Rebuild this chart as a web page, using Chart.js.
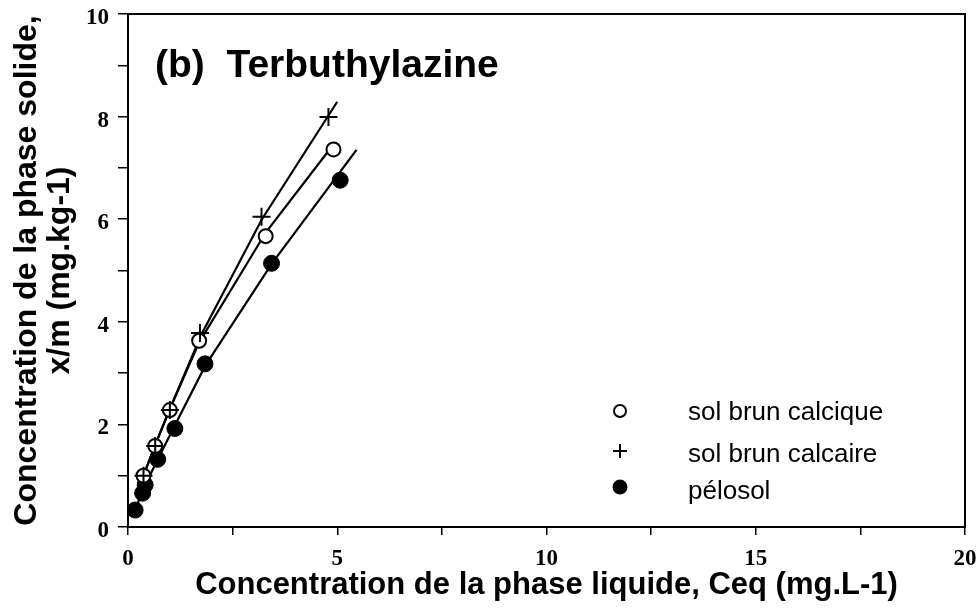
<!DOCTYPE html>
<html>
<head>
<meta charset="utf-8">
<script src="https://cdn.jsdelivr.net/npm/chart.js@4.4.1/dist/chart.umd.min.js"></script>
<style>
  html, body { margin: 0; padding: 0; background: #fff; }
  #wrap { width: 979px; height: 611px; position: relative; }
</style>
</head>
<body>
<div id="wrap"><canvas id="chart" width="979" height="611"></canvas></div>
<script>
// Isothermes d'adsorption - terbuthylazine, trois sols
const xTicks = [0, 5, 10, 15, 20];
const yTicks = [0, 2, 4, 6, 8, 10];

const soilNames = ['sol brun calcique', 'sol brun calcaire', 'pélosol'];

const calciqueX = [0.37, 0.65, 1.00, 1.70, 3.29, 4.91];
const calciqueY = [1.00, 1.58, 2.28, 3.63, 5.67, 7.36];
const calcaireX = [0.37, 0.65, 1.00, 1.72, 3.19, 4.79];
const calcaireY = [1.00, 1.58, 2.28, 3.78, 6.05, 7.99];
const pelosolX = [0.17, 0.35, 0.41, 0.71, 1.12, 1.84, 3.43, 5.07];
const pelosolY = [0.33, 0.66, 0.82, 1.32, 1.92, 3.18, 5.14, 6.76];

// fitted curves, traced vertices
const fitCalciqueX = [0.30, 0.65, 1.00, 1.70, 3.30, 4.95];
const fitCalciqueY = [0.85, 1.60, 2.30, 3.60, 5.75, 7.50];
const fitCalcaireX = [0.30, 0.65, 1.00, 1.75, 3.20, 5.00];
const fitCalcaireY = [0.85, 1.60, 2.30, 3.75, 6.00, 8.29];
const fitPelosolX = [0.15, 0.40, 0.70, 1.10, 1.85, 3.45, 5.46];
const fitPelosolY = [0.30, 0.80, 1.30, 1.95, 3.15, 5.15, 7.35];

const pts = (xs, ys) => xs.map((x, i) => ({ x, y: ys[i] }));

const SANS = '"Liberation Sans", Arial, Helvetica, sans-serif';
const SERIF = '"Liberation Serif", "Times New Roman", serif';

const boxPlugin = {
  id: 'box',
  afterDraw(chart) {
    const { ctx, chartArea: a } = chart;
    ctx.save();
    ctx.strokeStyle = '#000';
    ctx.lineWidth = 2;
    ctx.strokeRect(a.left, a.top, a.right - a.left, a.bottom - a.top);
    ctx.restore();
  }
};

const labelPlugin = {
  id: 'labels',
  afterDraw(chart) {
    const ctx = chart.ctx;
    ctx.save();
    ctx.fillStyle = '#000';
    ctx.strokeStyle = '#000';
    // panel title
    ctx.font = `bold 39px ${SANS}`;
    ctx.textBaseline = 'alphabetic';
    ctx.fillText('(b)  Terbuthylazine', 155, 77);

    // legend
    const textRows = [413, 455, 492];
    const symRows = [411, 451, 487];
    const sx = 620;
    ctx.font = `26px ${SANS}`;
    ctx.textBaseline = 'middle';
    soilNames.forEach((name, i) => ctx.fillText(name, 688, textRows[i]));
    ctx.lineWidth = 2;
    ctx.beginPath();
    ctx.arc(sx, symRows[0], 6, 0, Math.PI * 2);
    ctx.stroke();
    ctx.beginPath();
    ctx.moveTo(sx - 7, symRows[1]); ctx.lineTo(sx + 7, symRows[1]);
    ctx.moveTo(sx, symRows[1] - 7); ctx.lineTo(sx, symRows[1] + 7);
    ctx.stroke();
    ctx.beginPath();
    ctx.arc(sx, symRows[2], 7.5, 0, Math.PI * 2);
    ctx.fill();
    ctx.restore();
  }
};

const lineDs = (xs, ys) => ({
  data: pts(xs, ys),
  showLine: true,
  borderColor: '#000',
  borderWidth: 2.2,
  pointRadius: 0,
  tension: 0,
  order: 2
});

// keep the plot box fixed: no extra room for overhanging tick labels
const fixX = (s) => { s.height = 84; s.paddingLeft = 0; s.paddingRight = 0; };
const fixY = (s) => { s.width = 128; s.paddingTop = 0; s.paddingBottom = 0; };

new Chart(document.getElementById('chart'), {
  type: 'scatter',
  data: {
    datasets: [
      {
        label: soilNames[0],
        data: pts(calciqueX, calciqueY),
        pointStyle: 'circle',
        pointRadius: 7,
        backgroundColor: '#fff',
        borderColor: '#000',
        borderWidth: 2,
        order: 1
      },
      {
        label: soilNames[1],
        data: pts(calcaireX, calcaireY),
        pointStyle: 'cross',
        pointRadius: 9,
        borderColor: '#000',
        borderWidth: 2,
        order: 0
      },
      {
        label: soilNames[2],
        data: pts(pelosolX, pelosolY),
        pointStyle: 'circle',
        pointRadius: 8,
        backgroundColor: '#000',
        borderColor: '#000',
        borderWidth: 1,
        order: 1
      },
      lineDs(fitCalciqueX, fitCalciqueY),
      lineDs(fitCalcaireX, fitCalcaireY),
      lineDs(fitPelosolX, fitPelosolY)
    ]
  },
  options: {
    responsive: false,
    animation: false,
    layout: { padding: { top: 14, right: 14, left: 0, bottom: 0 } },
    plugins: {
      legend: { display: false },
      tooltip: { enabled: false }
    },
    scales: {
      x: {
        type: 'linear',
        min: 0,
        max: 20,
        afterFit: fixX,
        ticks: {
          stepSize: 2.5,
          autoSkip: false,
          maxRotation: 0,
          padding: 10,
          color: '#000',
          font: { family: SERIF, weight: 'bold', size: 23 },
          callback: (v) => (xTicks.includes(v) ? String(v) : '')
        },
        grid: { drawOnChartArea: false, color: '#000', tickLength: 8, lineWidth: 1.5 },
        border: { display: true, color: '#000', width: 2 },
        title: {
          display: true,
          text: 'Concentration de la phase liquide, Ceq (mg.L-1)',
          color: '#000',
          font: { family: SANS, weight: 'bold', size: 31 },
          padding: { top: 0, bottom: 7 }
        }
      },
      y: {
        type: 'linear',
        min: 0,
        max: 10,
        afterFit: fixY,
        ticks: {
          stepSize: 1,
          autoSkip: false,
          padding: 9,
          labelOffset: 4,
          color: '#000',
          font: { family: SERIF, weight: 'bold', size: 23 },
          callback: (v) => (yTicks.includes(v) ? String(v) : '')
        },
        grid: { drawOnChartArea: false, color: '#000', tickLength: 10, lineWidth: 1.5 },
        border: { display: true, color: '#000', width: 2 },
        title: {
          display: true,
          text: ['Concentration de la phase solide,', 'x/m (mg.kg-1)'],
          color: '#000',
          font: { family: SANS, weight: 'bold', size: 32, lineHeight: 1.05 },
          padding: { top: 10 }
        }
      }
    }
  },
  plugins: [boxPlugin, labelPlugin]
});
</script>
</body>
</html>
